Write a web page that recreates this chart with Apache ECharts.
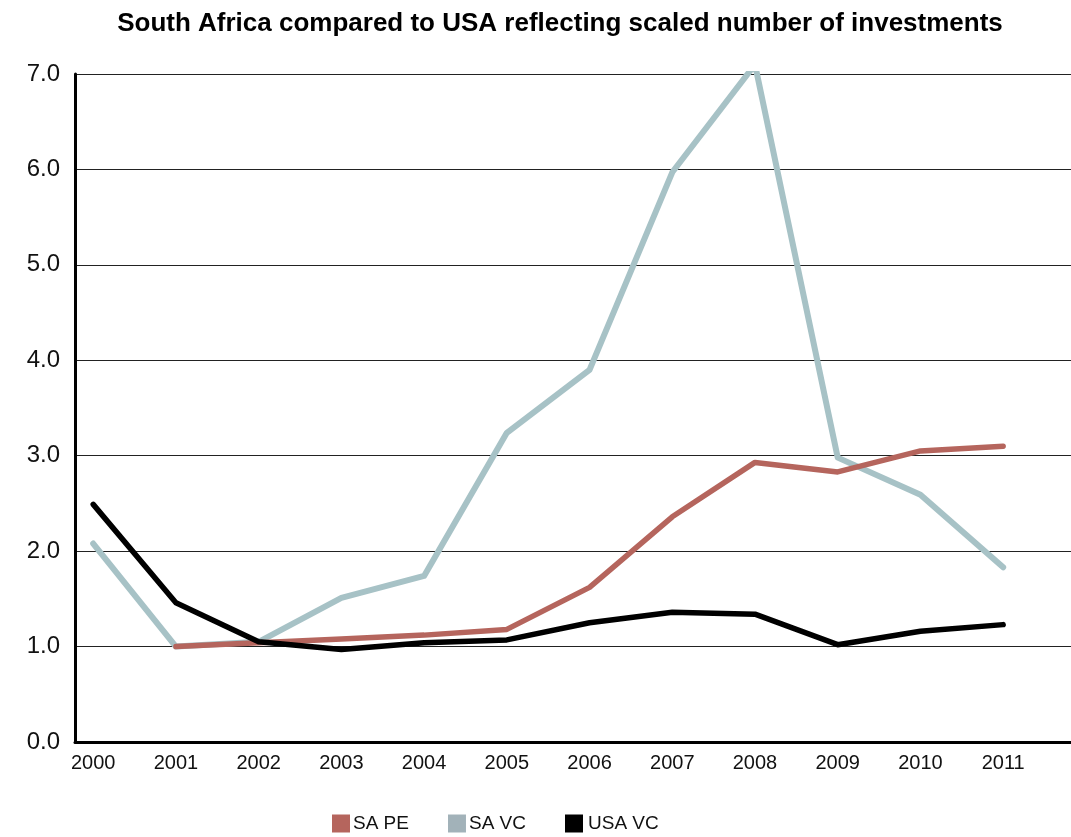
<!DOCTYPE html>
<html>
<head>
<meta charset="utf-8">
<script src="https://cdn.jsdelivr.net/npm/echarts@6/dist/echarts.min.js"></script>
<style>
  html, body { margin: 0; padding: 0; background: #fff; }
  #chart { width: 1071px; height: 837px; }
</style>
</head>
<body>
<div id="chart"></div>
<script>
// Years on the horizontal axis
const years = [2000, 2001, 2002, 2003, 2004, 2005, 2006, 2007, 2008, 2009, 2010, 2011];

// Scaled number of investments per year (null = no value)
const saPE  = [null, 1.00, 1.04, 1.08, 1.12, 1.18, 1.62, 2.36, 2.93, 2.83, 3.05, 3.10];
const saVC  = [2.08, 1.00, 1.05, 1.51, 1.74, 3.24, 3.90, 5.97, 7.10, 2.98, 2.59, 1.83];
const usaVC = [2.49, 1.46, 1.05, 0.97, 1.04, 1.07, 1.25, 1.36, 1.34, 1.02, 1.16, 1.23];

// Value-axis ticks
const yTicks = [0, 1, 2, 3, 4, 5, 6, 7];

const pairs = vals => years.map((y, i) => [y, vals[i]]).filter(p => p[1] !== null);

const FONT = '"Liberation Sans", Arial, sans-serif';
const chart = echarts.init(document.getElementById('chart'), null, { renderer: 'canvas' });

chart.setOption({
  animation: false,
  backgroundColor: '#ffffff',
  title: {
    text: 'South Africa compared to USA reflecting scaled number of investments',
    left: 555,
    textAlign: 'center',
    top: 6,
    textStyle: { fontFamily: FONT, fontSize: 26, fontWeight: 'bold', color: '#000' }
  },
  legend: {
    left: 327,
    top: 809,
    itemWidth: 18,
    itemHeight: 18,
    itemGap: 39,
    icon: 'rect',
    textStyle: { fontFamily: FONT, fontSize: 19, color: '#111', padding: [0, 0, 0, -2] },
    data: [
      { name: 'SA PE',  itemStyle: { color: '#b5655d' } },
      { name: 'SA VC',  itemStyle: { color: '#a2b2b9' } },
      { name: 'USA VC', itemStyle: { color: '#000000' }, textStyle: { padding: [0, 0, 0, 0] } }
    ]
  },
  grid: { left: 75, right: 0, top: 74, bottom: 95, containLabel: false },
  xAxis: {
    type: 'value',
    min: 1999.78,
    max: 2011.82,
    axisLine: { show: true, onZero: false, lineStyle: { color: '#000', width: 3 } },
    axisTick: { show: false },
    splitLine: { show: false },
    axisLabel: {
      customValues: years,
      formatter: v => String(Math.round(v)),
      fontFamily: FONT, fontSize: 20, color: '#111', margin: 11
    }
  },
  yAxis: {
    type: 'value',
    min: 0,
    max: 7,
    interval: 1,
    axisLine: { show: true, lineStyle: { color: '#000', width: 3 } },
    axisTick: { show: false },
    splitLine: { show: true, lineStyle: { color: '#222', width: 1 } },
    axisLabel: {
      customValues: yTicks,
      formatter: v => v.toFixed(1),
      fontFamily: FONT, fontSize: 24, color: '#111', margin: 15
    }
  },
  series: [
    {
      name: 'SA VC', type: 'line', data: pairs(saVC),
      symbol: 'none', lineStyle: { color: '#a7c2c6', width: 6, cap: 'round', join: 'round' },
      itemStyle: { color: '#a2b2b9' }, z: 2
    },
    {
      name: 'SA PE', type: 'line', data: pairs(saPE),
      symbol: 'none', lineStyle: { color: '#b5655d', width: 5.5, cap: 'round', join: 'round' },
      itemStyle: { color: '#b5655d' }, z: 3
    },
    {
      name: 'USA VC', type: 'line', data: pairs(usaVC),
      symbol: 'none', lineStyle: { color: '#000000', width: 5.5, cap: 'round', join: 'round' },
      itemStyle: { color: '#000000' }, z: 4
    }
  ]
});
</script>
</body>
</html>
